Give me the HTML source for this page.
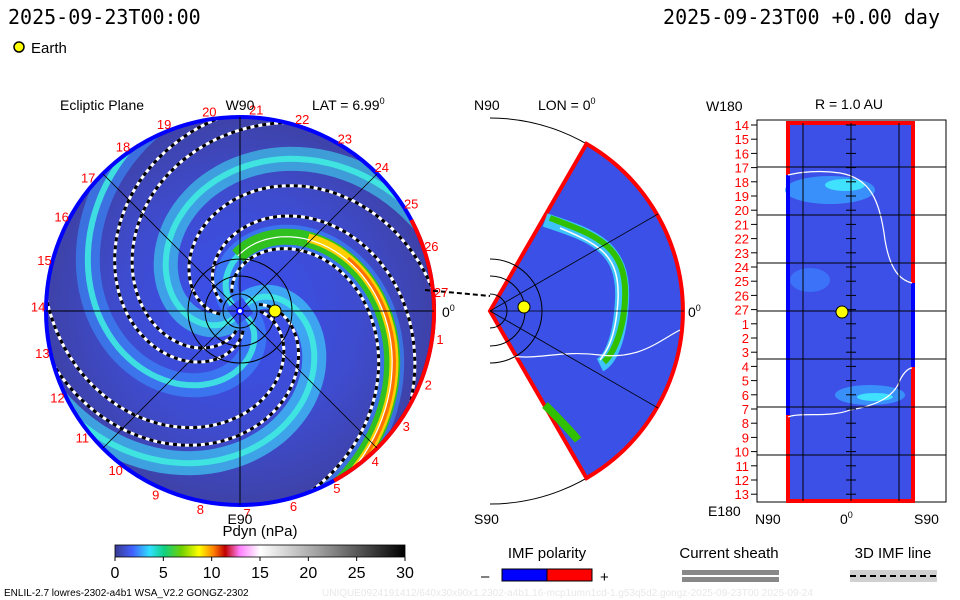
<!DOCTYPE html>
<html><head><meta charset="utf-8"><style>
html,body{margin:0;padding:0;background:#fff}
svg{display:block;font-family:"Liberation Sans",sans-serif}
.t{font-family:"DejaVu Sans Mono","Liberation Mono",monospace}
</style></head><body>
<svg id="s" width="960" height="600" viewBox="0 0 960 600" xmlns="http://www.w3.org/2000/svg">
<defs>
<linearGradient id="cb" x1="0" x2="1" y1="0" y2="0">
<stop offset="0" stop-color="#3a3a90"/><stop offset="0.06" stop-color="#4060ff"/><stop offset="0.12" stop-color="#30e0ff"/><stop offset="0.17" stop-color="#10d080"/><stop offset="0.23" stop-color="#70d000"/><stop offset="0.29" stop-color="#ffff00"/><stop offset="0.34" stop-color="#ff8000"/><stop offset="0.38" stop-color="#c00000"/><stop offset="0.43" stop-color="#ff80ff"/><stop offset="0.5" stop-color="#ffffff"/><stop offset="0.7" stop-color="#a0a0a0"/><stop offset="1" stop-color="#000"/>
</linearGradient>
<radialGradient id="bg" cx="0.5" cy="0.5" r="0.5">
<stop offset="0" stop-color="#3a50f0"/><stop offset="0.6" stop-color="#3e4cd0"/><stop offset="1" stop-color="#3e42a8"/>
</radialGradient>
<clipPath id="cc"><circle cx="240" cy="311" r="194"/></clipPath>
</defs>
<text class="t" x="8" y="24" font-size="20">2025-09-23T00:00</text>
<text class="t" x="940" y="24" font-size="20" text-anchor="end">2025-09-23T00 +0.00 day</text>
<circle cx="19" cy="47" r="5" fill="#ff0" stroke="#000" stroke-width="1.5"/>
<text x="31" y="53" font-size="15">Earth</text>

<g id="left">
<circle cx="240" cy="311" r="194" fill="url(#bg)"/>
<g id="arms" clip-path="url(#cc)"></g>
<circle cx="240" cy="311" r="194" fill="none" stroke="#0000ff" stroke-width="4"/>
<path id="redarc" fill="none" stroke="#ff0000" stroke-width="4"/>
<line x1="46" y1="311" x2="434" y2="311" stroke="#000"/>
<line x1="240" y1="117" x2="240" y2="505" stroke="#000"/>
<line x1="103" y1="174" x2="377" y2="448" stroke="#000" stroke-width="0.8"/>
<line x1="377" y1="174" x2="103" y2="448" stroke="#000" stroke-width="0.8"/>
<circle cx="240" cy="311" r="17" fill="none" stroke="#000"/>
<circle cx="240" cy="311" r="35" fill="none" stroke="#000"/>
<circle cx="240" cy="311" r="52" fill="none" stroke="#000"/>
<line x1="425" y1="290" x2="490" y2="296" stroke="#000" stroke-width="2" stroke-dasharray="5,3"/>
<circle cx="275" cy="311" r="6" fill="#ff0" stroke="#000"/>
<circle cx="240" cy="311" r="3" fill="#fff" stroke="#00f" stroke-width="2"/>
<g id="rotlabels" font-size="13" fill="#ff0000"></g>
<text x="60" y="110" font-size="14">Ecliptic Plane</text>
<text x="240" y="110" font-size="14" text-anchor="middle">W90</text>
<text x="312" y="110" font-size="14">LAT = 6.99<tspan dy="-6" font-size="9">0</tspan></text>
<text x="442" y="317" font-size="14">0<tspan dy="-6" font-size="9">0</tspan></text>
<text x="240" y="524" font-size="14" text-anchor="middle">E90</text>
</g>

<g id="mid">
<path d="M490 118 A193 193 0 0 1 490 504" fill="none" stroke="#000"/>
<path id="wedge" fill="#3a50e6" stroke="#ff0000" stroke-width="4"/>
<path id="wedgeBand" fill="none" stroke="#40e0ff" stroke-width="14" opacity="0.8"/>
<path id="wedgeBand2" fill="none" stroke="#30c000" stroke-width="6"/>
<path id="wedgeBand3" fill="none" stroke="#fff" stroke-width="1.5"/>
<path d="M510 356 C540 360 560 350 600 355 C640 360 660 340 680 330" fill="none" stroke="#fff" stroke-width="1.2"/>
<path d="M545 405 C560 420 570 430 578 440" fill="none" stroke="#30c000" stroke-width="8"/>
<line x1="490" y1="311" x2="658" y2="214" stroke="#000" stroke-width="0.8"/>
<line x1="490" y1="311" x2="658" y2="408" stroke="#000" stroke-width="0.8"/>
<line x1="490" y1="311" x2="684" y2="311" stroke="#000" stroke-width="0.8"/>
<path d="M490 294 A17 17 0 0 1 490 328 M490 276 A35 35 0 0 1 490 346 M490 259 A52 52 0 0 1 490 363" fill="none" stroke="#000"/>
<circle cx="524" cy="307" r="6" fill="#ff0" stroke="#000"/>
<text x="474" y="110" font-size="14">N90</text>
<text x="538" y="110" font-size="14">LON = 0<tspan dy="-6" font-size="9">0</tspan></text>
<text x="688" y="317" font-size="14">0<tspan dy="-6" font-size="9">0</tspan></text>
<text x="474" y="524" font-size="14">S90</text>
</g>

<g id="right">
<rect x="757" y="120" width="189" height="382" fill="#fff" stroke="#000"/>
<rect x="787" y="123" width="126" height="378" fill="#3c50e8"/>
<ellipse cx="830" cy="190" rx="45" ry="14" fill="#3aa0ff" opacity="0.8"/>
<ellipse cx="845" cy="185" rx="20" ry="6" fill="#40e0ff"/>
<ellipse cx="870" cy="395" rx="35" ry="10" fill="#3aa0ff" opacity="0.8"/>
<ellipse cx="875" cy="397" rx="18" ry="4" fill="#40e0ff"/>
<ellipse cx="810" cy="280" rx="20" ry="12" fill="#3a80ff" opacity="0.7"/>
<line x1="788" y1="123" x2="788" y2="501" stroke="#ff0000" stroke-width="4"/>
<line x1="788" y1="175" x2="788" y2="415" stroke="#0000ff" stroke-width="4"/>
<line x1="913" y1="123" x2="913" y2="501" stroke="#ff0000" stroke-width="4"/>
<line x1="913" y1="283" x2="913" y2="367" stroke="#0000ff" stroke-width="4"/>
<line x1="786" y1="123" x2="915" y2="123" stroke="#ff0000" stroke-width="4"/>
<line x1="786" y1="501" x2="915" y2="501" stroke="#ff0000" stroke-width="4"/>
<path d="M788 175 C800 172 820 170 840 173 C870 178 880 200 885 240 C890 270 900 280 912 283" fill="none" stroke="#fff" stroke-width="1.2"/>
<path d="M788 417 C800 412 830 418 850 410 C880 405 895 395 900 380 C905 370 910 368 912 368" fill="none" stroke="#fff" stroke-width="1.2"/>
<g id="grid" stroke="#000"></g>
<circle cx="842" cy="312" r="6" fill="#ff0" stroke="#000"/>
<g id="rowlabels" font-size="13" fill="#ff0000" text-anchor="end"></g>
<text x="706" y="111" font-size="14">W180</text>
<text x="849" y="109" font-size="14" text-anchor="middle">R = 1.0 AU</text>
<text x="708" y="516" font-size="14">E180</text>
<text x="755" y="524" font-size="14">N90</text>
<text x="840" y="524" font-size="14">0<tspan dy="-6" font-size="9">0</tspan></text>
<text x="914" y="524" font-size="14">S90</text>
</g>

<g>
<text x="260" y="536" font-size="15" text-anchor="middle">Pdyn (nPa)</text>
<rect x="115" y="545" width="290" height="12" fill="url(#cb)" stroke="#000" stroke-width="0.8"/>
<g id="cbticks" font-size="16" text-anchor="middle"></g>
</g>
<g>
<text x="547" y="558" font-size="15" text-anchor="middle">IMF polarity</text>
<rect x="502" y="569" width="45" height="12" fill="#0000ff" stroke="#000"/>
<rect x="547" y="569" width="45" height="12" fill="#ff0000" stroke="#000"/>
<text x="481" y="581" font-size="15">–</text><text x="600" y="582" font-size="15">+</text>
</g>
<g>
<text x="729" y="558" font-size="15" text-anchor="middle">Current sheath</text>
<rect x="682" y="570" width="97" height="5" fill="#888"/>
<rect x="682" y="577" width="97" height="5" fill="#888"/>
</g>
<g>
<text x="893" y="558" font-size="15" text-anchor="middle">3D IMF line</text>
<rect x="850" y="570" width="87" height="12" fill="#d0d0d0"/>
<line x1="850" y1="576" x2="937" y2="576" stroke="#000" stroke-width="2" stroke-dasharray="6,4"/>
</g>
<text x="4" y="596" font-size="10">ENLIL-2.7 lowres-2302-a4b1 WSA_V2.2 GONGZ-2302</text>
<text x="322" y="596" font-size="10" fill="#e8e8e8">UNIQUE0924191412/640x30x90x1.2302-a4b1.16-mcp1umn1cd-1.g53q5d2.gongz-2025-09-23T00   2025-09-24</text>
</svg>
<script>
const cbTicks=[0,5,10,15,20,25,30];
const rotLabels=[1,2,3,4,5,6,7,8,9,10,11,12,13,14,15,16,17,18,19,20,21,22,23,24,25,26,27];
const rowLabels=[14,15,16,17,18,19,20,21,22,23,24,25,26,27,1,2,3,4,5,6,7,8,9,10,11,12,13];
const armAngles=[-150,-60,30,120];
const armColors=["#3a90ff","#40e0ff","#3a90ff","#40d8f0"];
const NS='http://www.w3.org/2000/svg';
const cx=240,cy=311,R=194;
function el(t,a,p){const e=document.createElementNS(NS,t);for(const k in a)e.setAttribute(k,a[k]);p.appendChild(e);return e;}
function spiral(a0,r0,r1){let d='';for(let r=r0;r<=r1;r+=3){const th=(a0+r*1.05)*Math.PI/180;d+=(d?'L':'M')+(cx+r*Math.cos(th)).toFixed(1)+' '+(cy+r*Math.sin(th)).toFixed(1);}return d;}
const arms=document.getElementById('arms');
armAngles.forEach((a,i)=>{
 const p=el('path',{d:spiral(a,10,260),fill:'none',stroke:armColors[i],'stroke-width':24,opacity:0.6},arms);
 
 
 el('path',{d:spiral(a,10,260),fill:'none',stroke:'#40f0e0','stroke-width':6,opacity:0.85},arms);
});
const cme=el('path',{d:spiral(-150,55,230),fill:'none',stroke:'#30c020','stroke-width':16},arms);


el('path',{d:spiral(-152,100,230),fill:'none',stroke:'#ffd000','stroke-width':9},arms);
el('path',{d:spiral(-152,120,230),fill:'none',stroke:'#ff7000','stroke-width':4},arms);
el('path',{d:spiral(-150,55,230),fill:'none',stroke:'#fff','stroke-width':1.2},arms);
[-175,-135,-40,-20,60,80,150].forEach(a=>{
 el('path',{d:spiral(a,20,230),fill:'none',stroke:'#fff','stroke-width':3},arms);
 el('path',{d:spiral(a,20,230),fill:'none',stroke:'#000','stroke-width':3,'stroke-dasharray':'4,4'},arms);
});
function pt(a,r){const t=a*Math.PI/180;return [(cx+r*Math.cos(t)).toFixed(1),(cy+r*Math.sin(t)).toFixed(1)];}
const p1=pt(-28,R),p2=pt(61,R);
document.getElementById('redarc').setAttribute('d',`M${p1} A${R} ${R} 0 0 1 ${p2}`);
const rl=document.getElementById('rotlabels');
rotLabels.forEach((n,i)=>{const [x,y]=pt(8+i*13.33,R+8);const t=el('text',{x:x,y:+y+5,'text-anchor':'middle'},rl);t.textContent=n;});
const mx=490,my=311;
function mp(a,r){const t=a*Math.PI/180;return [(mx+r*Math.cos(t)).toFixed(1),(my+r*Math.sin(t)).toFixed(1)];}
const w1=mp(-60,193),w2=mp(60,193);
document.getElementById('wedge').setAttribute('d',`M${mx} ${my} L${w1} A193 193 0 0 1 ${w2} Z`);
document.getElementById('wedgeBand').setAttribute('d','M545 220 C590 235 625 245 622 300 C620 340 610 360 600 365');
document.getElementById('wedgeBand2').setAttribute('d','M550 218 C595 235 628 245 625 300 C623 335 612 355 604 362');
document.getElementById('wedgeBand3').setAttribute('d','M560 228 C600 245 620 255 618 300 C616 335 608 350 600 360');
const g=document.getElementById('grid');
[167,215,263,311,359,407,455].forEach(y=>el('line',{x1:757,x2:946,y1:y,y2:y},g));
[803,851,899].forEach(x=>el('line',{x1:x,x2:x,y1:123,y2:501},g));
for(let i=0;i<27;i++){const y=125+i*14.2;el('line',{x1:846,x2:856,y1:y,y2:y},g);el('line',{x1:751,x2:757,y1:y,y2:y},g);}
const rw=document.getElementById('rowlabels');
rowLabels.forEach((n,i)=>{const t=el('text',{x:749,y:130+i*14.2},rw);t.textContent=n;});
const cbt=document.getElementById('cbticks');
cbTicks.forEach(v=>{const x=115+v/30*290;el('line',{x1:x,x2:x,y1:557,y2:561,stroke:'#000'},cbt);const t=el('text',{x:x,y:578},cbt);t.textContent=v;});
</script>
</body></html>
